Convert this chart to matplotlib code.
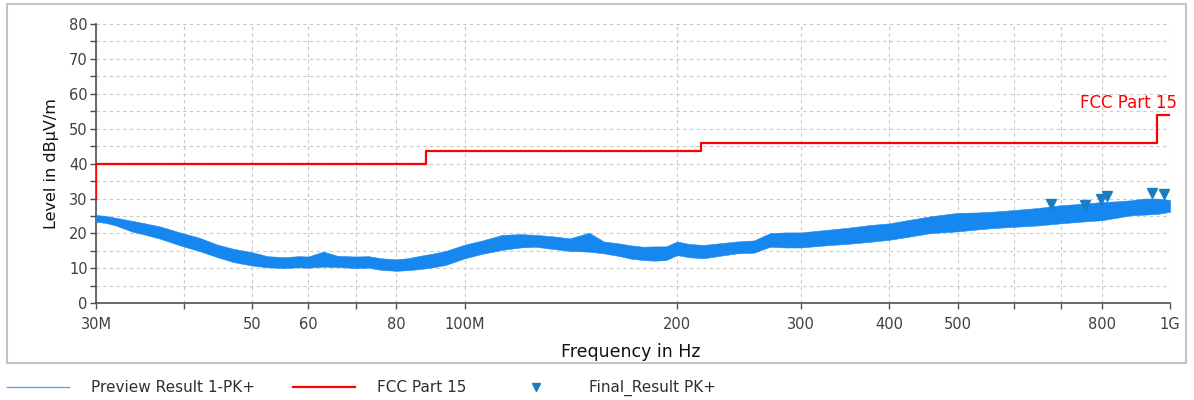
import matplotlib
matplotlib.use("Agg")
import matplotlib.pyplot as plt
from matplotlib.patches import Rectangle
from matplotlib.lines import Line2D

# ==================== DATA ====================
# preview scan envelope, frequency in MHz, level in dBuV/m
scan_freq = [30, 31, 32, 33.8, 35, 37, 39.6, 42, 44.6, 47, 50, 52.5, 55.5, 58, 60,
             63, 66, 70, 73, 76, 80, 83, 86.4, 90, 94, 100, 106, 113, 120, 126,
             133, 141, 150, 157.5, 165, 172, 179, 186, 193, 200, 208, 218, 230,
             243, 257, 271, 285, 300, 325, 348, 375, 400, 430, 457, 500, 530,
             557, 600, 650, 700, 750, 800, 840, 880, 920, 960, 1000]
scan_upper = [25.3, 25.0, 24.5, 23.6, 23.0, 22.0, 20.2, 18.8, 16.8, 15.6, 14.6, 13.5,
              13.2, 13.5, 13.4, 14.8, 13.6, 13.4, 13.5, 12.9, 12.6, 12.9, 13.6, 14.2,
              15.0, 16.8, 18.0, 19.6, 19.8, 19.6, 19.2, 18.6, 20.2, 17.7, 17.2, 16.6,
              16.2, 16.3, 16.3, 17.7, 17.0, 16.7, 17.2, 17.7, 18.0, 20.1, 20.3, 20.3,
              21.0, 21.6, 22.4, 22.9, 24.0, 24.9, 25.9, 26.0, 26.2, 26.7, 27.3, 28.1,
              28.5, 29.0, 29.2, 29.5, 30.0, 30.0, 29.6]
scan_lower = [23.4, 23.0, 22.3, 20.5, 19.8, 18.5, 16.5, 15.0, 13.2, 11.8, 10.8, 10.3,
              10.1, 10.3, 10.2, 10.5, 10.4, 10.1, 10.2, 9.6, 9.3, 9.5, 9.8, 10.3,
              11.0, 12.9, 14.2, 15.3, 16.0, 16.2, 15.6, 15.0, 14.8, 14.3, 13.6, 12.8,
              12.4, 12.2, 12.4, 13.8, 13.2, 12.9, 13.6, 14.3, 14.5, 16.2, 16.0, 16.0,
              16.6, 17.0, 17.6, 18.2, 19.2, 20.1, 20.6, 21.1, 21.5, 21.9, 22.3, 22.9,
              23.4, 23.8, 24.5, 25.2, 25.4, 25.6, 26.2]

# FCC Part 15 limit (step line)
limit_freq = [30, 30, 88, 88, 216, 216, 960, 960, 1000]
limit_level = [30, 40, 40, 43.5, 43.5, 46, 46, 54, 54]

# final peak results
final_freq = [677, 758, 798, 815, 943, 980]
final_level = [28.5, 28.2, 29.8, 30.7, 31.7, 31.2]

x_ticks = [30, 40, 50, 60, 70, 80, 100, 200, 300, 400, 500, 600, 700, 800, 1000]
x_labels = ["30M", "", "50", "60", "", "80", "100M", "200", "300", "400", "500",
            "", "", "800", "1G"]
y_ticks = [0, 10, 20, 30, 40, 50, 60, 70, 80]
y_minor = [5, 15, 25, 35, 45, 55, 65, 75]

# ==================== PLOT ====================
scan_color = "#1787f0"
limit_color = "#ff0000"
final_color = "#1a7dc0"

W, H = 1194, 400
fig = plt.figure(figsize=(W / 100, H / 100), dpi=100)
ax = fig.add_axes([96 / W, 1 - 303.3 / H, (1170 - 96) / W, (303.3 - 24) / H])

ax.fill_between(scan_freq, scan_lower, scan_upper, color=scan_color, lw=0.4,
                edgecolor=scan_color, zorder=3)
ax.plot(limit_freq, limit_level, color=limit_color, lw=1.6, zorder=4)
ax.plot(final_freq, final_level, linestyle="none", marker="v", markersize=7,
        color=final_color, zorder=5)

ax.annotate("FCC Part 15", xy=(1000, 54), xytext=(5, 2), textcoords="offset points",
            ha="right", va="bottom", color=limit_color, fontsize=12)

ax.set_xscale("log")
ax.set_xlim(30, 1000)
ax.set_ylim(0, 80)
ax.set_xticks(x_ticks)
ax.set_xticklabels(x_labels)
ax.minorticks_off()
ax.set_yticks(y_ticks)
ax.set_yticks(y_minor, minor=True)

ax.grid(True, which="both", color="#c8c8c8", linestyle=(0, (3, 3)), lw=0.8)
ax.set_axisbelow(True)

for side in ["top", "right"]:
    ax.spines[side].set_visible(False)
for side in ["left", "bottom"]:
    ax.spines[side].set_color("#505050")
    ax.spines[side].set_linewidth(1.2)

ax.tick_params(which="both", direction="out", length=4, width=1, color="#505050",
               labelcolor="#404040", labelsize=10.5)
ax.tick_params(axis="x", pad=6)
ax.tick_params(axis="y", pad=2)

ax.set_xlabel("Frequency in Hz", fontsize=12.5, color="#111111")
ax.xaxis.set_label_coords(0.4977, (303.3 - 343) / 279.3)
ax.set_ylabel("Level in dBµV/m", fontsize=11.5, labelpad=7, color="#111111")

# outer frame
fig.add_artist(Rectangle((7 / W, 1 - 363 / H), (1186 - 7) / W, 359 / H,
                         transform=fig.transFigure, fill=False,
                         edgecolor="#c4c4c4", lw=1.5))

handles = [
    Line2D([], [], color="#5aa5ee", lw=1.0),
    Line2D([], [], color=limit_color, lw=1.6),
    Line2D([], [], color=final_color, linestyle="none", marker="v", markersize=6),
]
fig.legend(handles, ["Preview Result 1-PK+", "FCC Part 15", "Final_Result PK+"],
           loc="center left", bbox_to_anchor=(7 / W, 1 - 388 / H), ncol=3,
           frameon=False, borderpad=0, borderaxespad=0,
           fontsize=11, handlelength=4.05, handletextpad=1.45, columnspacing=2.5,
           labelcolor="#303030")

fig.savefig("out.png", dpi=100)
